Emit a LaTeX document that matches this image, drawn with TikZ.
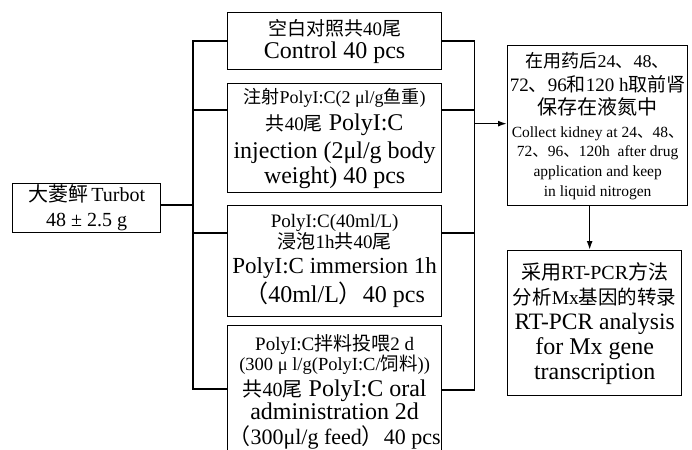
\documentclass[tikz,border=0pt]{standalone}
\usepackage{fontspec}
\usepackage{tikz}
\setmainfont{Liberation Serif}
\newfontfamily\cjk{Noto Sans CJK SC}
\usetikzlibrary{
    arrows.meta,
    positioning
}
\newcommand{\zh}[1]{{\cjk #1}}
\newcommand{\fs}[1]{\fontsize{#1}{#1}\selectfont}

\begin{document}
\begin{tikzpicture}[x=1pt, y=-1pt,
    box/.style={draw, line width=1.3pt, anchor=north west, inner sep=0pt, align=center},
    conn/.style={line width=1.6pt},
    arr/.style={conn, -{Latex[length=9pt, width=6pt]}}]
    \useasboundingbox (0, 0) rectangle (692, 449);
    \clip (0, 0) rectangle (692, 449);
    % fish
    \node[box, minimum width=148pt, minimum height=49pt, font=\fontsize{20}{25}\selectfont] (turbot) at (12, 183)
        {\fs{20}\zh{大菱鲆}\,Turbot\\\fs{20}48 ± 2.5 g};
    % four groups
    \node[box, minimum width=214pt, minimum height=57pt, font=\fontsize{20}{23}\selectfont] (ctrl) at (227, 12)
        {\fs{19}\zh{空白对照共}40\zh{尾}\\\fs{24}Control 40 pcs};
    \node[box, minimum width=214pt, minimum height=109pt, font=\fontsize{24}{27}\selectfont] (inj) at (227, 83)
        {\fs{18}\zh{注射}PolyI:C(2 μl/g\zh{鱼重})\\
         \fs{24}{\fs{19}\zh{共}40\zh{尾}} PolyI:C\\[1pt]
         \fs{24}injection (2μl/g body\\[-2pt]
         \fs{24}weight) 40 pcs};
    \node[box, minimum width=214pt, minimum height=111pt, font=\fontsize{24}{25}\selectfont] (imm) at (227, 205)
        {\fs{19}PolyI:C(40ml/L)\\[-4pt]
         \fs{19}\zh{浸泡}1h\zh{共}40\zh{尾}\\
         \fs{23}PolyI:C immersion 1h\\[2pt]
         \fs{24}\zh{（}40ml/L\zh{）}40 pcs};
    \node[box, minimum width=214pt, minimum height=132pt, font=\fontsize{24}{25}\selectfont] (oral) at (227, 325)
        {\fs{19}PolyI:C\zh{拌料投喂}2 d\\[-5pt]
         \fs{18.5}(300 μ l/g(PolyI:C/\zh{饲料}))\\[1pt]
         \fs{24}{\fs{20}\zh{共}40\zh{尾}} PolyI:C oral\\[-2pt]
         \fs{24}administration 2d\\
         \fs{22}\zh{（}300μl/g feed\zh{）}40 pcs};
    % sampling and analysis
    \node[box, minimum width=180pt, minimum height=160pt, font=\fontsize{15}{20}\selectfont] (coll) at (507, 45)
        {\fs{18}\zh{在用药后}24\zh{、}48\zh{、}\\[4pt]
         \fs{19}72\zh{、}96\zh{和}120 h\zh{取前肾}\\[3pt]
         \fs{20}\zh{保存在液氮中}\\[3pt]
         \fs{15.5}Collect kidney at 24\zh{、}48\zh{、}\\[-1pt]
         \fs{15.5}72\zh{、}96\zh{、}120h\ \ after drug\\
         \fs{15.5}application and keep\\
         \fs{15.5}in liquid nitrogen};
    \node[box, minimum width=174pt, minimum height=145pt, font=\fontsize{24}{25}\selectfont] (rtpcr) at (507, 250)
        {\fs{20}\zh{采用}RT-PCR\zh{方法}\\
         \fs{19.5}\zh{分析}Mx\zh{基因的转录}\\
         \fs{23.5}RT-PCR analysis\\
         \fs{24}for Mx gene\\
         \fs{24}transcription};
    % left bracket
    \draw[conn] (ctrl.west) -- ++(-34, 0) coordinate (topL) |- ([yshift=-64pt]oral.north west);
    \draw[conn] ([yshift=3pt]turbot.east) -- ([yshift=3pt]turbot.east -| topL);
    \draw[conn] ([yshift=-27pt]inj.north west) -- ([yshift=-27pt]inj.north west -| topL);
    \draw[conn] ([yshift=-28pt]imm.north west) -- ([yshift=-28pt]imm.north west -| topL);
    % right bracket
    \draw[conn] (ctrl.east) -- ++(32, 0) coordinate (topR) |- ([yshift=-65pt]oral.north east);
    \draw[conn] ([yshift=-27pt]inj.north east) -- ([yshift=-27pt]inj.north east -| topR);
    \draw[conn] ([yshift=-28pt]imm.north east) -- ([yshift=-28pt]imm.north east -| topR);
    \draw[arr] ([yshift=2pt]coll.west -| topR) -- ([yshift=2pt]coll.west);
    \draw[arr] ([xshift=-8pt]coll.south) -- ([xshift=-8pt]coll.south |- rtpcr.north);
\end{tikzpicture}
\end{document}
